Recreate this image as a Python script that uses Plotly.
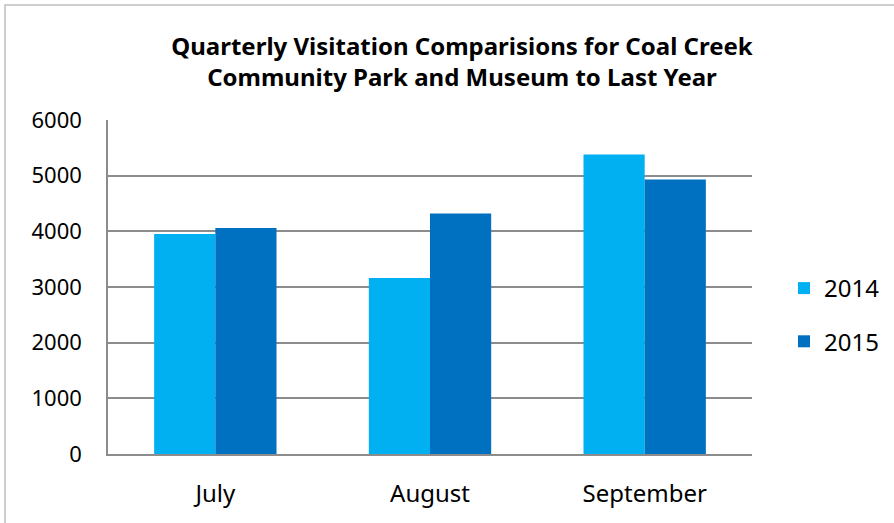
import plotly.graph_objects as go

categories = ["July", "August", "September"]
series_2014 = [3950, 3160, 5380]
series_2015 = [4060, 4320, 4930]
y_ticks = [0, 1000, 2000, 3000, 4000, 5000, 6000]

W, H = 894, 523
L, R, T, B = 108, 142, 120, 69
pw, ph = W - L - R, H - T - B

def px_x(p):
    return (p - L) / pw

def px_y(p):
    return (H - B - p) / ph

FONT = "Noto Sans"

fig = go.Figure()
fig.add_trace(go.Bar(x=categories, y=series_2014, name="2014",
                     marker=dict(color="#00B0F0", line=dict(width=0)),
                     legendgroup="a"))
fig.add_trace(go.Bar(x=categories, y=series_2015, name="2015",
                     marker=dict(color="#0070C0", line=dict(width=0)),
                     legendgroup="b"))

fig.update_layout(
    width=W, height=H,
    margin=dict(l=L, r=R, t=T, b=B, autoexpand=False),
    paper_bgcolor="white", plot_bgcolor="white",
    barmode="group", bargap=0.43, bargroupgap=0,
    font=dict(family=FONT, color="black"),
    title=dict(
        text="<b>Quarterly Visitation Comparisions for Coal Creek<br>Community Park and Museum to Last Year</b>",
        x=px_x(462), xref="paper", xanchor="center",
        y=1 - 55 / H, yref="container", yanchor="middle",
        font=dict(family=FONT, size=24, color="black"),
    ),
    legend=dict(
        x=px_x(784), y=px_y(266), xanchor="left", yanchor="top",
        font=dict(family=FONT, size=24, color="black"),
        tracegroupgap=19, bgcolor="rgba(0,0,0,0)",
    ),
    xaxis=dict(
        showline=True, linecolor="#8c8c8c", linewidth=1.5,
        ticks="", tickfont=dict(family=FONT, size=24, color="black"),
        ticklabelstandoff=17, showgrid=False,
    ),
    yaxis=dict(
        range=[0, 6000], tickvals=y_ticks,
        showline=True, linecolor="#8c8c8c", linewidth=1.5,
        showgrid=True, gridcolor="#8c8c8c", gridwidth=1.5,
        ticks="", tickfont=dict(family=FONT, size=22, color="black"),
        ticklabelstandoff=20, zeroline=False,
    ),
    shapes=[dict(
        type="rect", xref="paper", yref="paper",
        x0=px_x(5), x1=px_x(W + 20), y0=px_y(H + 20), y1=px_y(5),
        line=dict(color="#bfbfbf", width=1.5), fillcolor="rgba(0,0,0,0)",
        layer="below",
    )],
)

fig.write_html(
    "out.html",
    config={"displayModeBar": False},
    post_script="document.body.style.margin='0';document.body.style.overflow='hidden';",
)
